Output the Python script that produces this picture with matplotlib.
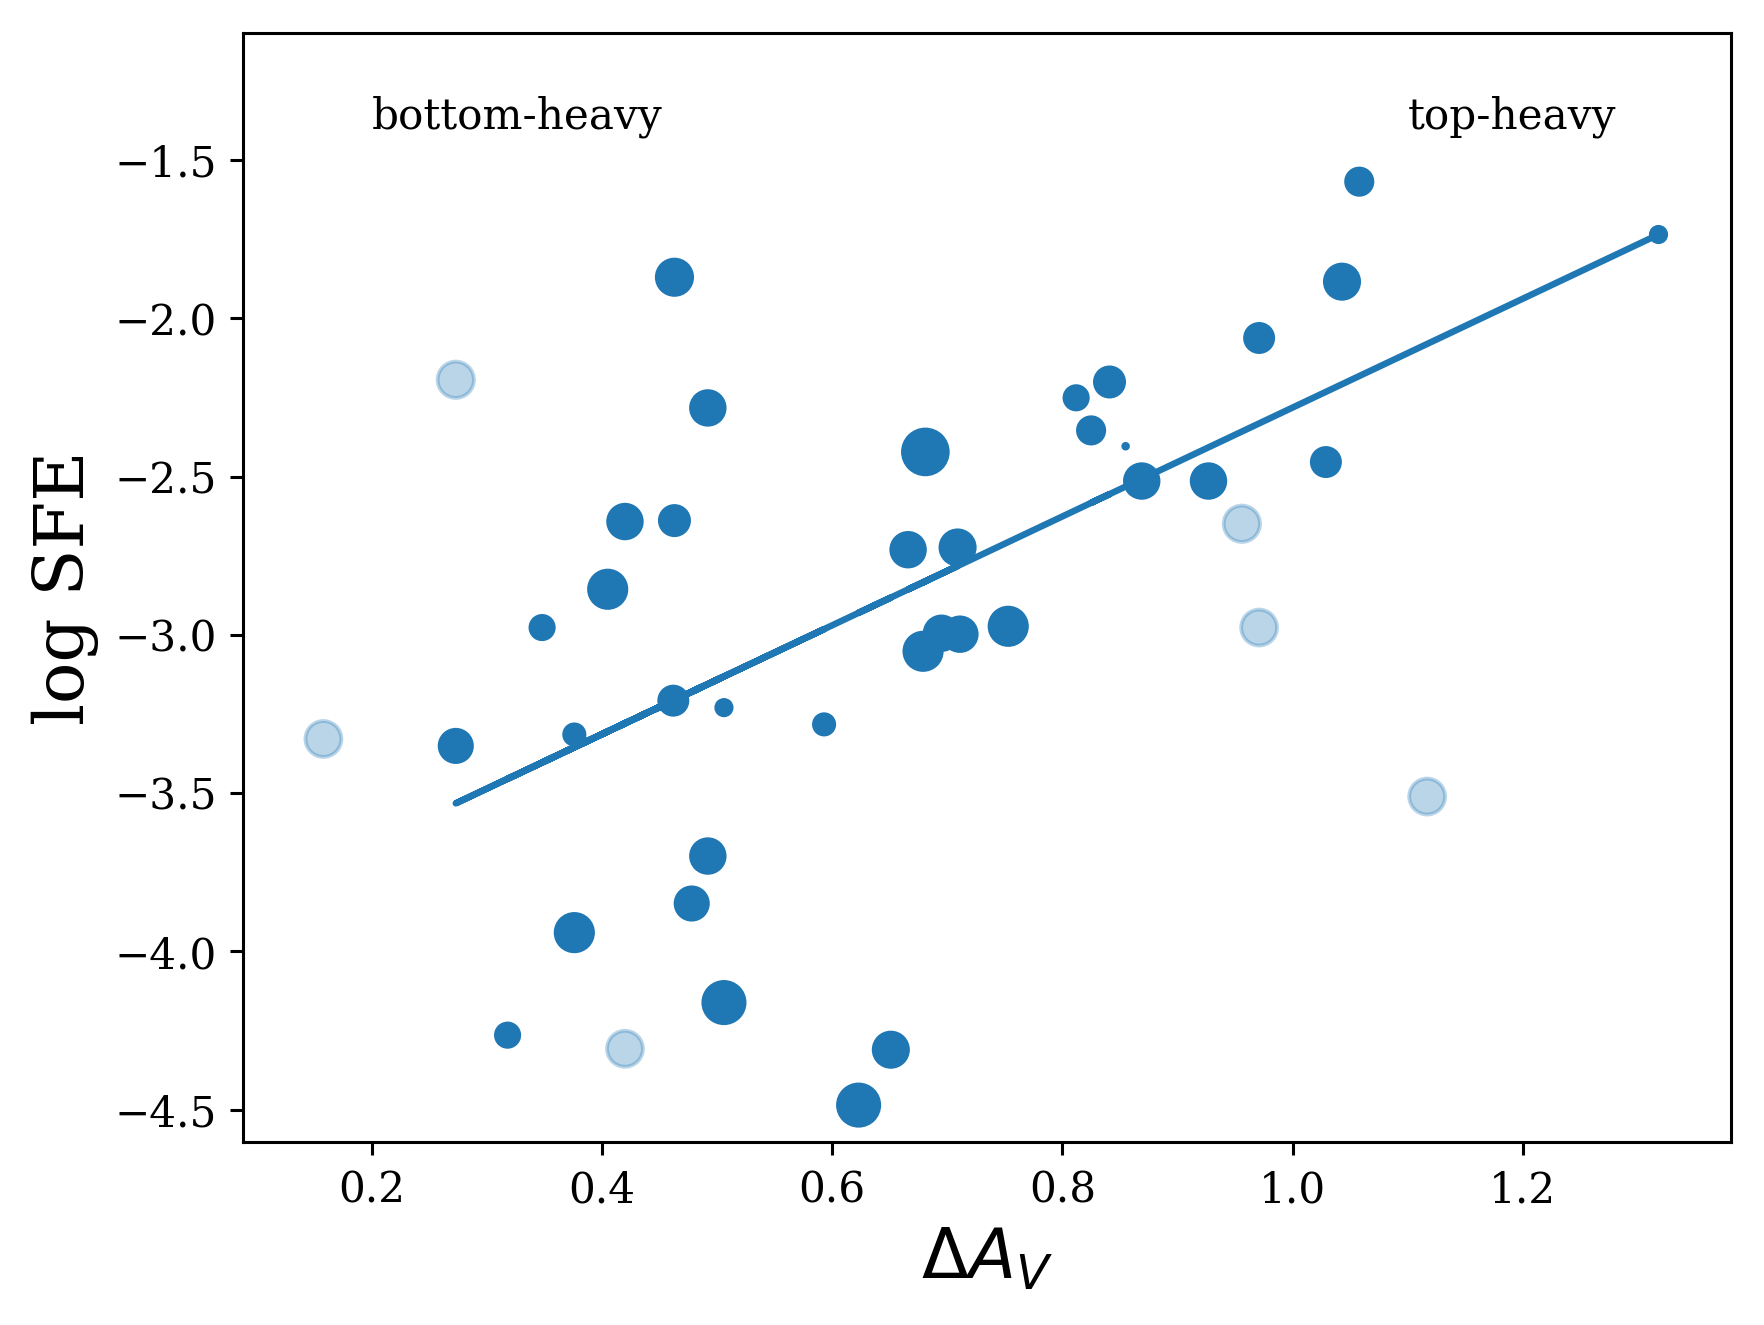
import numpy as np
import matplotlib
matplotlib.use("Agg")
import matplotlib.pyplot as plt

plt.rcParams['font.family'] = 'serif'
plt.rcParams['font.serif'] = ['DejaVu Serif']

# solid points: Delta A_V, log SFE, marker size
dav = [0.463, 0.492, 0.420, 0.463, 0.405, 0.348, 0.462, 0.506, 0.376, 0.273,
       0.593, 0.492, 0.478, 0.376, 0.506, 0.318, 0.651, 0.623, 0.681, 0.666,
       0.709, 0.679, 0.695, 0.711, 0.753, 0.812, 0.841, 0.825, 0.855, 0.869,
       0.927, 0.971, 1.029, 1.043, 1.058, 1.318]
logsfe = [-1.870, -2.283, -2.642, -2.639, -2.856, -2.977, -3.208, -3.230, -3.315, -3.351,
          -3.283, -3.699, -3.849, -3.941, -4.162, -4.265, -4.311, -4.486, -2.422, -2.731,
          -2.724, -3.052, -2.995, -2.998, -2.973, -2.251, -2.201, -2.354, -2.404, -2.514,
          -2.514, -2.062, -2.454, -1.884, -1.568, -1.735]
sizes = [85, 77, 77, 58, 95, 37, 54, 16, 28, 71,
         28, 77, 71, 95, 116, 37, 80, 116, 137, 77,
         80, 95, 77, 77, 95, 37, 58, 47, 1.5, 77,
         77, 54, 54, 80, 47, 16]

# excluded (faint) points
dav_ex = [0.273, 0.158, 0.420, 0.956, 0.971, 1.117]
logsfe_ex = [-2.194, -3.329, -4.308, -2.649, -2.977, -3.511]
sizes_ex = [90, 88, 88, 90, 88, 88]

# linear fit coefficients
fit_slope = 1.72
fit_intercept = -4.002

fig = plt.figure(figsize=(6.4, 4.808), dpi=275.625)
ax = fig.add_axes([0.138, 0.138, 0.9813 - 0.138, 0.975 - 0.138])

ax.scatter(dav, logsfe, s=sizes, color='C0')
ax.scatter(dav_ex, logsfe_ex, s=sizes_ex, color='C0', alpha=0.3)

xs = np.array(dav)
ax.plot(xs, fit_slope * xs + fit_intercept, color='C0', lw=1.7)

ax.text(0.2, -1.4, 'bottom-heavy', fontsize=11)
ax.text(1.1, -1.4, 'top-heavy', fontsize=11)

ax.set_xlim(0.0885, 1.381)
ax.set_ylim(-4.603, -1.098)
ax.set_xticks([0.2, 0.4, 0.6, 0.8, 1.0, 1.2])
ax.set_yticks([-4.5, -4.0, -3.5, -3.0, -2.5, -2.0, -1.5])
ax.tick_params(labelsize=11)
ax.set_xlabel(r'$\Delta A_V$', fontsize=18)
ax.set_ylabel('log SFE', fontsize=18)

fig.savefig('out.png', dpi=275.625)
